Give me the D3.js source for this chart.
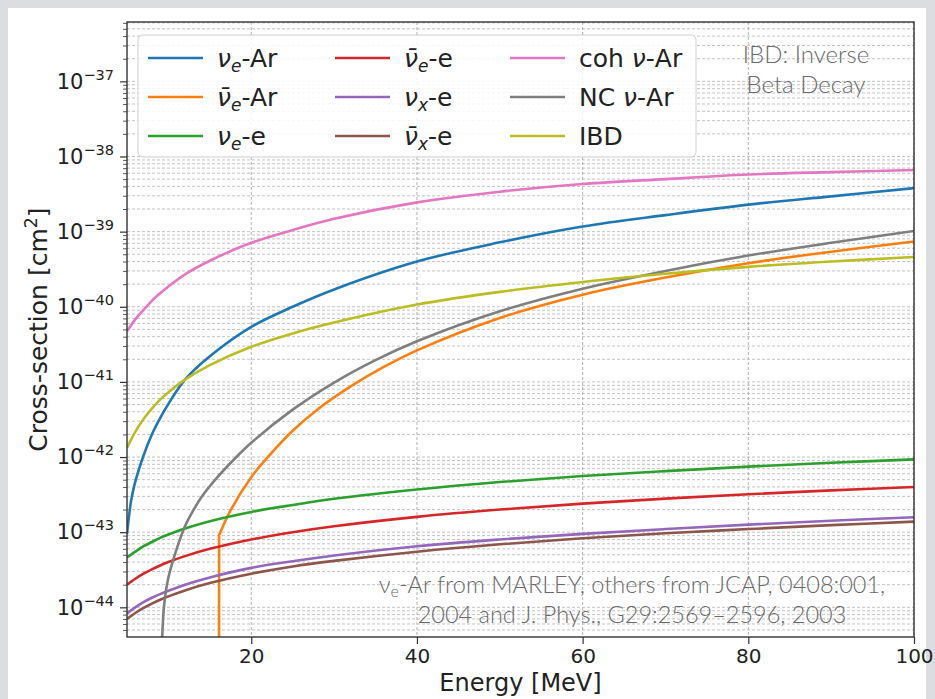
<!DOCTYPE html>
<html>
<head>
<meta charset="utf-8">
<script src="https://cdn.jsdelivr.net/npm/d3@7"></script>
<style>
  body { margin: 0; background: #dcdde1; }
  text { font-family: "DejaVu Sans", sans-serif; fill: #222; }
  .note { font-family: Lato, "Open Sans", sans-serif; font-weight: 300; fill: #6a6a6a; }
</style>
</head>
<body>
<svg id="wrapper"></svg>
<script>
// Data (cross-section in cm^2 vs energy in MeV)
const energyGrid = [5, 6, 7, 8, 9, 10, 12, 15, 20, 25, 30, 40, 50, 60, 70, 80, 90, 100];

const nuee    = [4.6e-44, 5.5e-44, 6.5e-44, 7.4e-44, 8.4e-44, 9.3e-44, 1.12e-43, 1.4e-43, 1.86e-43, 2.3e-43, 2.78e-43, 3.7e-43, 4.65e-43, 5.6e-43, 6.5e-43, 7.45e-43, 8.4e-43, 9.3e-43];
const nuebare = [2.0e-44, 2.4e-44, 2.8e-44, 3.2e-44, 3.6e-44, 4.0e-44, 4.8e-44, 6.0e-44, 8.0e-44, 1.0e-43, 1.2e-43, 1.6e-43, 2.0e-43, 2.4e-43, 2.8e-43, 3.2e-43, 3.6e-43, 4.0e-43];
const nuxe    = [8.3e-45, 1.0e-44, 1.17e-44, 1.34e-44, 1.5e-44, 1.66e-44, 2.0e-44, 2.5e-44, 3.35e-44, 4.1e-44, 4.9e-44, 6.5e-44, 8.0e-44, 9.5e-44, 1.1e-43, 1.26e-43, 1.42e-43, 1.58e-43];
const nuxbare = [7.0e-45, 8.4e-45, 9.8e-45, 1.12e-44, 1.26e-44, 1.4e-44, 1.68e-44, 2.1e-44, 2.8e-44, 3.5e-44, 4.15e-44, 5.5e-44, 6.9e-44, 8.3e-44, 9.7e-44, 1.1e-43, 1.24e-43, 1.38e-43];
const cohAr   = [4.7e-41, 6.8e-41, 9.1e-41, 1.2e-40, 1.51e-40, 1.86e-40, 2.7e-40, 4.1e-40, 7.1e-40, 1.05e-39, 1.48e-39, 2.45e-39, 3.4e-39, 4.3e-39, 5.0e-39, 5.75e-39, 6.2e-39, 6.6e-39];
const ibd     = [1.32e-42, 2.16e-42, 3.2e-42, 4.4e-42, 5.8e-42, 7.3e-42, 1.07e-41, 1.67e-41, 2.93e-41, 4.42e-41, 6.17e-41, 1.07e-40, 1.58e-40, 2.14e-40, 2.75e-40, 3.4e-40, 4.0e-40, 4.6e-40];

const nueArEnergy = [5, 5.5, 6, 7, 8, 9, 10, 12, 15, 20, 25, 30, 40, 50, 60, 70, 80, 90, 100];
const nueAr       = [9.5e-44, 2.63e-43, 4.7e-43, 1.05e-42, 2.0e-42, 3.3e-42, 5.1e-42, 1.07e-41, 2.19e-41, 5.4e-41, 1.0e-40, 1.7e-40, 4.0e-40, 7.2e-40, 1.17e-39, 1.66e-39, 2.29e-39, 2.95e-39, 3.8e-39];

// threshold curves
const nuebarArEnergy = [16.1, 16.12, 17.5, 20, 22, 25, 28, 32, 36, 40, 50, 60, 70, 80, 90, 100];
const nuebarAr       = [1e-46, 9.1e-44, 1.95e-43, 5.4e-43, 1.0e-42, 2.24e-42, 4.3e-42, 8.7e-42, 1.58e-41, 2.63e-41, 7.1e-41, 1.45e-40, 2.45e-40, 3.8e-40, 5.4e-40, 7.4e-40];
const ncArEnergy = [9.2, 9.5, 10, 11, 12, 13, 14, 16, 18, 20, 25, 30, 35, 40, 50, 60, 70, 80, 90, 100];
const ncAr       = [3.0e-45, 1.12e-44, 2.5e-44, 6.0e-44, 1.2e-43, 1.95e-43, 2.95e-43, 5.53e-43, 9.5e-43, 1.55e-42, 4.27e-42, 9.8e-42, 1.95e-41, 3.47e-41, 8.7e-41, 1.74e-40, 3.0e-40, 4.8e-40, 7.1e-40, 1.02e-39];

const xTicks = [20, 40, 60, 80, 100];
const yExponents = [-44, -43, -42, -41, -40, -39, -38, -37];

// "straight" = leading points joined by a straight (vertical) segment
const series = [
  { key: "nueAr",   color: "#1f77b4", e: nueArEnergy,    v: nueAr,    straight: 0, label: [["ν","i"],["e","sub"],["-Ar",""]] },
  { key: "nuebarAr",color: "#ff7f0e", e: nuebarArEnergy, v: nuebarAr, straight: 2, label: [["ν\u0304","i"],["e","sub"],["-Ar",""]] },
  { key: "nuee",    color: "#2ca02c", e: energyGrid,     v: nuee,     straight: 0, label: [["ν","i"],["e","sub"],["-e",""]] },
  { key: "nuebare", color: "#d62728", e: energyGrid,     v: nuebare,  straight: 0, label: [["ν\u0304","i"],["e","sub"],["-e",""]] },
  { key: "nuxe",    color: "#9467bd", e: energyGrid,     v: nuxe,     straight: 0, label: [["ν","i"],["x","sub"],["-e",""]] },
  { key: "nuxbare", color: "#8c564b", e: energyGrid,     v: nuxbare,  straight: 0, label: [["ν\u0304","i"],["x","sub"],["-e",""]] },
  { key: "cohAr",   color: "#e377c2", e: energyGrid,     v: cohAr,    straight: 0, label: [["coh ",""],["ν","i"],["-Ar",""]] },
  { key: "ncAr",    color: "#7f7f7f", e: ncArEnergy,     v: ncAr,     straight: 0, label: [["NC ",""],["ν","i"],["-Ar",""]] },
  { key: "ibd",     color: "#bcbd22", e: energyGrid,     v: ibd,      straight: 0, label: [["IBD",""]] },
];

// dimensions
let dimensions = {
  width: 935,
  height: 699,
  margin: { top: 22, right: 21, bottom: 62, left: 127 },
};
dimensions.boundedWidth = dimensions.width - dimensions.margin.left - dimensions.margin.right;
dimensions.boundedHeight = dimensions.height - dimensions.margin.top - dimensions.margin.bottom;

const wrapper = d3.select("#wrapper")
  .attr("width", dimensions.width)
  .attr("height", dimensions.height);

// gray page border + white panel
wrapper.append("rect").attr("width", dimensions.width).attr("height", dimensions.height).attr("fill", "#dcdde1");
wrapper.append("rect").attr("x", 8).attr("y", 8)
  .attr("width", dimensions.width - 17).attr("height", dimensions.height - 8).attr("fill", "#fff");

const bounds = wrapper.append("g")
  .attr("transform", `translate(${dimensions.margin.left},${dimensions.margin.top})`);

const xScale = d3.scaleLinear().domain([5, 100]).range([0, dimensions.boundedWidth]);
const yScale = d3.scaleLog()
  .domain([Math.pow(10, -44.395), Math.pow(10, -36.21)])
  .range([dimensions.boundedHeight, 0]);

const [yLo, yHi] = yScale.domain();
const yMajor = yExponents.map(e => Math.pow(10, e));
const yMinor = [];
for (let e = -45; e <= -37; e++) {
  for (let m = 2; m <= 9; m++) {
    const v = m * Math.pow(10, e);
    if (v > yLo && v < yHi) yMinor.push(v);
  }
}

// grid
const grid = bounds.append("g").attr("stroke", "#bdbdbd").attr("stroke-width", 0.9).attr("stroke-dasharray", "3,2");
grid.selectAll(".hgrid").data(yMajor.concat(yMinor)).join("line")
  .attr("x1", 0).attr("x2", dimensions.boundedWidth)
  .attr("y1", d => yScale(d)).attr("y2", d => yScale(d));
grid.selectAll(".vgrid").data(xTicks).join("line")
  .attr("stroke", "#aaaaaa")
  .attr("x1", d => xScale(d)).attr("x2", d => xScale(d))
  .attr("y1", 0).attr("y2", dimensions.boundedHeight);

// curves
bounds.append("clipPath").attr("id", "plotClip")
  .append("rect").attr("width", dimensions.boundedWidth).attr("height", dimensions.boundedHeight);

const smoothLine = d3.line()
  .x(d => xScale(d[0]))
  .y(d => yScale(d[1]))
  .curve(d3.curveCatmullRom.alpha(0.5));
const straightLine = d3.line()
  .x(d => xScale(d[0]))
  .y(d => yScale(d[1]));

const curvePath = s => {
  const pts = s.e.map((e, i) => [e, s.v[i]]);
  if (!s.straight) return smoothLine(pts);
  return straightLine(pts.slice(0, s.straight)) + smoothLine(pts.slice(s.straight - 1)).replace(/^M/, "L");
};

bounds.append("g").attr("clip-path", "url(#plotClip)")
  .selectAll("path").data(series).join("path")
  .attr("d", curvePath)
  .attr("fill", "none")
  .attr("stroke", s => s.color)
  .attr("stroke-width", 2.6)
  .attr("stroke-linejoin", "round");

// annotations
const noteTop = bounds.append("text").attr("class", "note")
  .attr("text-anchor", "middle").style("font-size", "24px");
noteTop.append("tspan").attr("x", 679).attr("y", 40.5).text("IBD: Inverse");
noteTop.append("tspan").attr("x", 679).attr("y", 71).text("Beta Decay");

const noteBottom = bounds.append("text").attr("class", "note")
  .attr("text-anchor", "middle").style("font-size", "23.5px");
const nb1 = noteBottom.append("tspan").attr("x", 505).attr("y", 571);
nb1.append("tspan").text("ν");
nb1.append("tspan").style("font-size", "16px").attr("dy", 4).text("e");
nb1.append("tspan").attr("dy", -4).text("-Ar from MARLEY, others from JCAP, 0408:001,");
noteBottom.append("tspan").attr("x", 505).attr("y", 601).text("2004 and J. Phys., G29:2569\u20132596, 2003");

// axes
const yAxis = bounds.append("g")
  .call(d3.axisLeft(yScale).tickValues(yMajor).tickSize(7).tickPadding(6).tickFormat(() => ""));
yAxis.selectAll(".tick text").each(function (d) {
  const t = d3.select(this).style("font-size", "21px").attr("fill", "#222");
  t.append("tspan").text("10");
  t.append("tspan").style("font-size", "14.5px").attr("dy", -9)
    .text("\u2212" + Math.abs(Math.round(Math.log10(d))));
});
const yMinorAxis = bounds.append("g")
  .call(d3.axisLeft(yScale).tickValues(yMinor).tickSize(4).tickFormat(() => ""));

const xAxis = bounds.append("g")
  .attr("transform", `translate(0,${dimensions.boundedHeight})`)
  .call(d3.axisBottom(xScale).tickValues(xTicks).tickSize(7).tickPadding(5));
xAxis.selectAll(".tick text").style("font-size", "20px").attr("fill", "#222");

[yAxis, yMinorAxis, xAxis].forEach(a => {
  a.select(".domain").remove();
  a.selectAll(".tick line").attr("stroke", "#333").attr("stroke-width", 1.2);
});
yMinorAxis.selectAll(".tick line").attr("stroke-width", 0.8);

// frame
bounds.append("rect")
  .attr("width", dimensions.boundedWidth).attr("height", dimensions.boundedHeight)
  .attr("fill", "none").attr("stroke", "#333").attr("stroke-width", 1.4);

// axis labels
bounds.append("text")
  .attr("x", dimensions.boundedWidth / 2)
  .attr("y", dimensions.boundedHeight + 54)
  .attr("text-anchor", "middle")
  .style("font-size", "24px")
  .text("Energy [MeV]");

const yLabel = bounds.append("text")
  .attr("transform", `translate(${47 - dimensions.margin.left},${dimensions.boundedHeight / 2}) rotate(-90)`)
  .attr("text-anchor", "middle")
  .style("font-size", "25px");
yLabel.append("tspan").text("Cross-section [cm");
yLabel.append("tspan").style("font-size", "17.5px").attr("dy", -10).text("2");
yLabel.append("tspan").attr("dy", 10).text("]");

// legend
const legend = wrapper.append("g").attr("transform", "translate(138,35)");
legend.append("rect")
  .attr("width", 558).attr("height", 122).attr("rx", 5)
  .attr("fill", "#fff").attr("fill-opacity", 0.85)
  .attr("stroke", "#d0d0d0");

const colX = [10, 197, 372];
const rowY = [23, 62, 101];
series.forEach((s, i) => {
  const col = Math.floor(i / 3), row = i % 3;
  const item = legend.append("g").attr("transform", `translate(${colX[col]},${rowY[row]})`);
  item.append("line").attr("x1", 0).attr("x2", 55)
    .attr("stroke", s.color).attr("stroke-width", 2.6);
  const label = item.append("text").attr("x", 69).attr("y", 9).style("font-size", "25px");
  let shifted = false;
  s.label.forEach(([txt, kind]) => {
    const sp = label.append("tspan").text(txt);
    if (kind === "i" || kind === "sub") sp.style("font-style", "italic");
    if (kind === "sub") { sp.style("font-size", "17px").attr("dy", 5); shifted = true; }
    else if (shifted) { sp.attr("dy", -5); shifted = false; }
  });
});
</script>
</body>
</html>
